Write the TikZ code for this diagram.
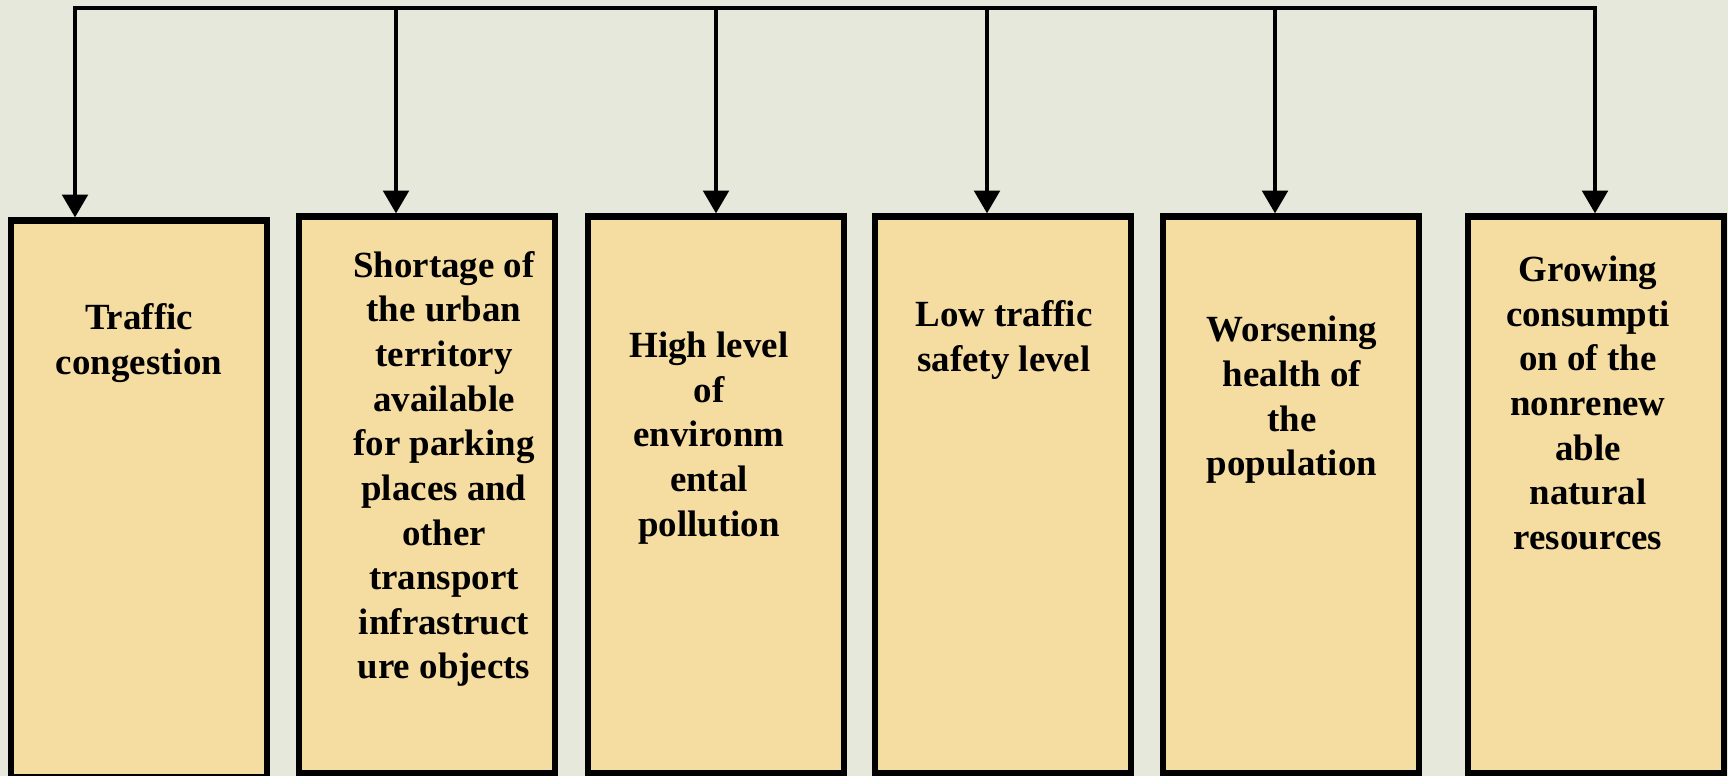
\documentclass[tikz,border=0pt]{standalone}
\usepackage{fontspec}
\setmainfont{Liberation Serif}
\usetikzlibrary{arrows.meta}

\definecolor{paper}{HTML}{E6E8DC}
\definecolor{sand}{HTML}{F5DCA0}

\tikzset{
  problem/.style={shape=rectangle,draw=black,fill=sand,line width=3.6pt,minimum width=5.12cm,minimum height=11.14cm,inner sep=0pt},
  lbl/.style={align=center,inner sep=0pt,font=\bfseries\fontsize{21}{25.4}\selectfont},
  feed/.style={draw=black,line width=2.3pt,-{Triangle[length=13pt,width=14.5pt]}}
}

\begin{document}
\begin{tikzpicture}[x=0.02cm,y=-0.02cm]
\useasboundingbox (0,0) rectangle (1728,776);
\fill[paper] (0,0) rectangle (1728,776);

% boxes
\node[problem] (0) at (139,499) {};
\node[problem] (1) at (427,495) {};
\node[problem] (2) at (716,495) {};
\node[problem] (3) at (1003,495) {};
\node[problem] (4) at (1291,495) {};
\node[problem] (5) at (1596,495) {};

% texts
\node[lbl] (t0) at (139,343) {Traffic\\congestion};
\node[lbl] (t1) at (444,469) {Shortage of\\the urban\\territory\\available\\for parking\\places and\\other\\transport\\infrastruct\\ure objects};
\node[lbl] (t2) at (709,438) {High level\\of\\environm\\ental\\pollution};
\node[lbl] (t3) at (1004,340) {Low traffic\\safety level};
\node[lbl] (t4) at (1292,400) {Worsening\\health of\\the\\population};
\node[lbl] (t5) at (1588,403) {Growing\\consumpti\\on of the\\nonrenew\\able\\natural\\resources};

% top bus
\coordinate (a0) at (75,8);
\coordinate (a1) at (396,8);
\coordinate (a2) at (716,8);
\coordinate (a3) at (987,8);
\coordinate (a4) at (1275,8);
\coordinate (a5) at (1595,8);
\draw[black,line width=2.3pt,line cap=rect] (a0) -- (a5);

\foreach \i in {0,...,5}
  \draw[feed] (a\i) -- (a\i |- \i.north);
\end{tikzpicture}
\end{document}
